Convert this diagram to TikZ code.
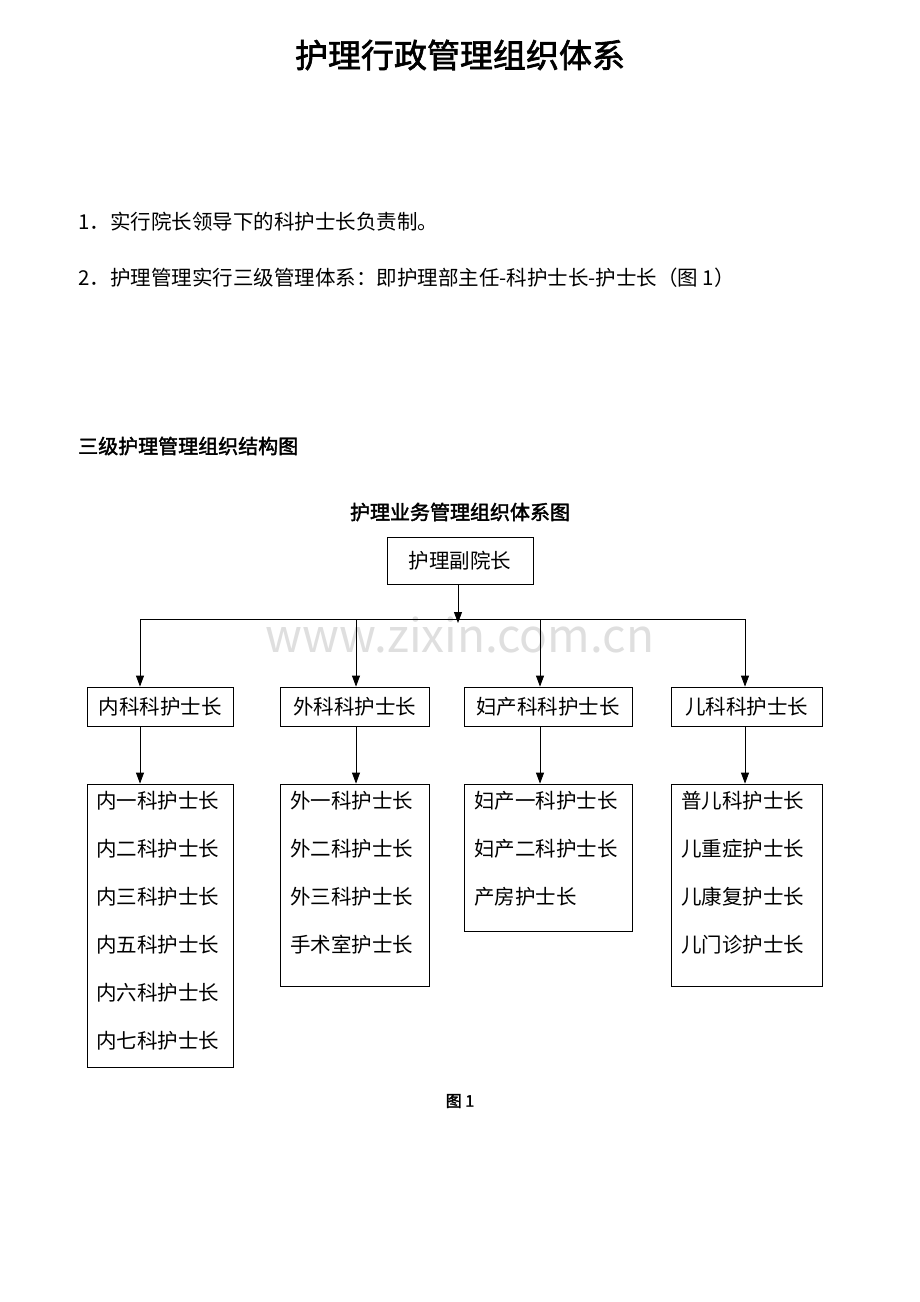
\documentclass[tikz,border=0pt]{standalone}
\usepackage{fontspec}
\setmainfont{Noto Sans CJK SC}
\newfontfamily\cjkb{Noto Sans CJK SC}[FakeBold=2]
\usetikzlibrary{arrows.meta}
\begin{document}
\begin{tikzpicture}[x=1pt,y=-1pt,
  box/.style={draw,line width=0.8pt,inner sep=0pt},
  txt/.style={anchor=west,inner sep=0pt,font=\fontsize{20.5}{20.5}\selectfont},
  arr/.style={line width=0.8pt,-{Triangle[length=11pt,width=8pt]}}]
\useasboundingbox[fill=white] (0,0) rectangle (920,1302);
\node[font=\cjkb\fontsize{33}{33}\selectfont] (title) at (460,55) {护理行政管理组织体系};
\node[txt] (l1) at (78,222) {1．实行院长领导下的科护士长负责制。};
\node[txt] (l2) at (78,278) {2．护理管理实行三级管理体系：即护理部主任-科护士长-护士长（图 1）};
\node[txt,font=\cjkb\fontsize{20}{20}\selectfont] (h) at (78,446) {三级护理管理组织结构图};
\node[font=\cjkb\fontsize{20}{20}\selectfont] (h2) at (460,512) {护理业务管理组织体系图};
\node[font=\fontsize{46}{46}\selectfont,text=gray!25] (wm) at (460,635) {www.zixin.com.cn};
\node[box,minimum width=146pt,minimum height=47pt,font=\fontsize{20.5}{20.5}\selectfont] (top) at (460,560.5) {护理副院长};
\coordinate (j) at (458,619);
\draw[line width=0.8pt] (top.south -| j) -- (j);
\draw[arr] (top.south -| j) -- ([yshift=-4pt]j);
\draw[line width=0.8pt] (140,619) -- (745,619);
\foreach \n/\x/\w/\t in {a/160/146/内科科护士长,b/354.5/149/外科科护士长,c/548/168/妇产科科护士长,d/746.5/151/儿科科护士长}{
  \node[box,minimum width=\w pt,minimum height=39pt,font=\fontsize{20.5}{20.5}\selectfont] (\n) at (\x,706.5) {\t};
}
\foreach \n/\x in {a/140,b/356,c/540,d/745}{
  \coordinate (t\n) at (\x,619);
  \draw[arr] (t\n) -- (t\n |- \n.north);
}
\node[box,minimum width=146pt,minimum height=283pt] (A) at (160,925.5) {};
\node[box,minimum width=149pt,minimum height=202pt] (B) at (354.5,885) {};
\node[box,minimum width=168pt,minimum height=147pt] (C) at (548,857.5) {};
\node[box,minimum width=151pt,minimum height=202pt] (D) at (746.5,885) {};
\draw[arr] (140,726) coordinate (sa) -- (sa |- A.north);
\draw[arr] (356,726) coordinate (sb) -- (sb |- B.north);
\draw[arr] (540,726) coordinate (sc) -- (sc |- C.north);
\draw[arr] (745,726) coordinate (sd) -- (sd |- D.north);
\foreach \t [count=\i] in {内一科护士长,内二科护士长,内三科护士长,内五科护士长,内六科护士长,内七科护士长}
  \node[txt] (A\i) at (96,801+48*\i-48) {\t};
\foreach \t [count=\i] in {外一科护士长,外二科护士长,外三科护士长,手术室护士长}
  \node[txt] (B\i) at (290,801+48*\i-48) {\t};
\foreach \t [count=\i] in {妇产一科护士长,妇产二科护士长,产房护士长}
  \node[txt] (C\i) at (474,801+48*\i-48) {\t};
\foreach \t [count=\i] in {普儿科护士长,儿重症护士长,儿康复护士长,儿门诊护士长}
  \node[txt] (D\i) at (681,801+48*\i-48) {\t};
\node[font=\cjkb\fontsize{16}{16}\selectfont] (fig) at (460,1101) {图 1};
\end{tikzpicture}
\end{document}
